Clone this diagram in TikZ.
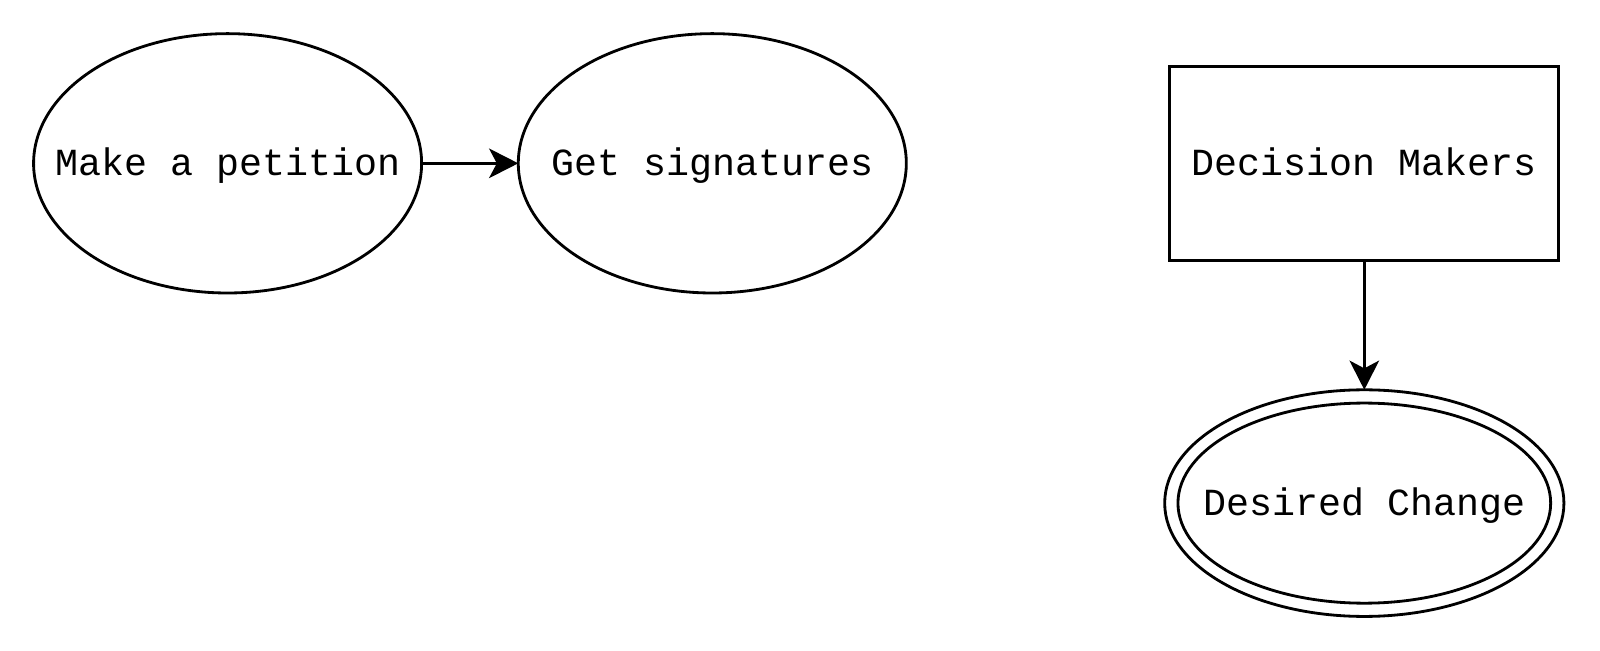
\documentclass[tikz,border=0pt]{standalone}
\usepackage{fontspec}
\setmonofont{Liberation Mono}
\usetikzlibrary{shapes.geometric,arrows.meta}
\begin{document}
\begin{tikzpicture}[x=0.01cm,y=-0.01cm,
  every node/.style={font=\ttfamily\fontsize{10.9}{12}\selectfont, inner sep=0pt, outer sep=0pt},
  txt/.style={text height=7pt, text depth=0pt},
  every label/.style={txt},
  ell/.style={draw, line width=0.8pt, ellipse},
  box/.style={draw, line width=0.8pt, rectangle, txt},
  conn/.style={line width=0.8pt, -{Stealth[length=8.3pt,width=8.4pt,inset=2.2pt]}}]
\useasboundingbox (0,0) rectangle (1600,650);
\node[ell, minimum width=3.878cm, minimum height=2.592cm, label=center:{Make a petition}] (m) at (227.6,163.3) {};
\node[ell, minimum width=3.878cm, minimum height=2.592cm, label=center:{Get signatures}] (g) at (712.3,163.3) {};
\node[box, minimum width=3.888cm, minimum height=1.939cm] (d) at (1364.3,163.3) {Decision Makers};
\node[ell, minimum width=3.99cm, minimum height=2.265cm] (dc) at (1364.3,503.1) {};
\node[ell, minimum width=3.725cm, minimum height=2.0cm, label=center:{Desired Change}] (dci) at (dc.center) {};
\draw[conn] (m.east) -- (g.west);
\draw[conn] (d.south) -- (dc.north);
\end{tikzpicture}
\end{document}
